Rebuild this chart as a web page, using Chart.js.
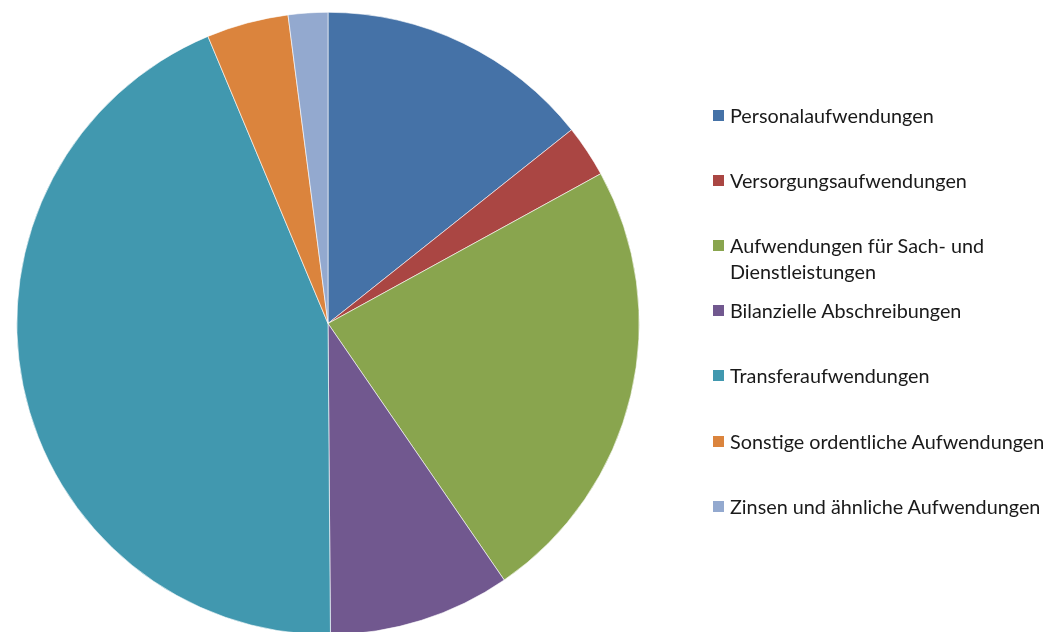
<!DOCTYPE html>
<html>
<head>
<meta charset="utf-8">
<script src="https://cdn.jsdelivr.net/npm/chart.js@4"></script>
<style>
  html, body { margin: 0; padding: 0; background: #fff; }
  #wrap { position: relative; width: 1050px; height: 632px; overflow: hidden; }
  #chart { position: absolute; left: 0; top: 0; }
  #legend { position: absolute; left: 713px; top: 0; font-family: Lato, "Liberation Sans", sans-serif; font-size: 19.8px; color: #1a1a1a; }
  .item { position: absolute; left: 0; white-space: nowrap; line-height: 26px; }
  .box { position: absolute; left: 0; top: 8px; width: 11px; height: 11px; }
  .txt { position: absolute; left: 17px; top: 0; }
</style>
</head>
<body>
<div id="wrap">
  <canvas id="chart" width="1050" height="640" style="width:1050px;height:640px"></canvas>
  <div id="legend"></div>
</div>
<script>
  const categories = [
    "Personalaufwendungen",
    ["Versorgungsaufwendungen"],
    ["Aufwendungen für Sach- und", "Dienstleistungen"],
    "Bilanzielle Abschreibungen",
    "Transferaufwendungen",
    "Sonstige ordentliche Aufwendungen",
    "Zinsen und ähnliche Aufwendungen"
  ];

  // share of total expenses in percent
  const shares = [14.3, 2.7, 23.4, 9.45, 43.8, 4.25, 2.05];

  const sliceColors = ['#4572A7', '#AA4643', '#89A54E', '#71588F', '#4198AF', '#DB843D', '#93A9CF'];

  const ctx = document.getElementById('chart').getContext('2d');

  const myPie = new Chart(ctx, {
    type: 'pie',
    data: {
      labels: categories,
      datasets: [
        {
          data: shares,
          backgroundColor: sliceColors,
          borderColor: '#ffffff',
          borderWidth: 0.6
        }
      ]
    },
    options: {
      responsive: false,
      animation: false,
      layout: {
        padding: { left: 16.5, top: 12, right: 410.5, bottom: 5 }
      },
      plugins: {
        legend: { display: false },
        tooltip: { enabled: false }
      }
    }
  });

  // legend on the right, one entry every 65px
  const legendDiv = document.getElementById('legend');
  categories.forEach((cat, i) => {
    const lines = Array.isArray(cat) ? cat : [cat];
    const item = document.createElement('div');
    item.className = 'item';
    item.style.top = (102 + 65.1 * i) + 'px';
    item.innerHTML = '<div class="box" style="background:' + sliceColors[i] + '"></div>' +
      '<div class="txt">' + lines.join('<br>') + '</div>';
    legendDiv.appendChild(item);
  });
</script>
</body>
</html>
